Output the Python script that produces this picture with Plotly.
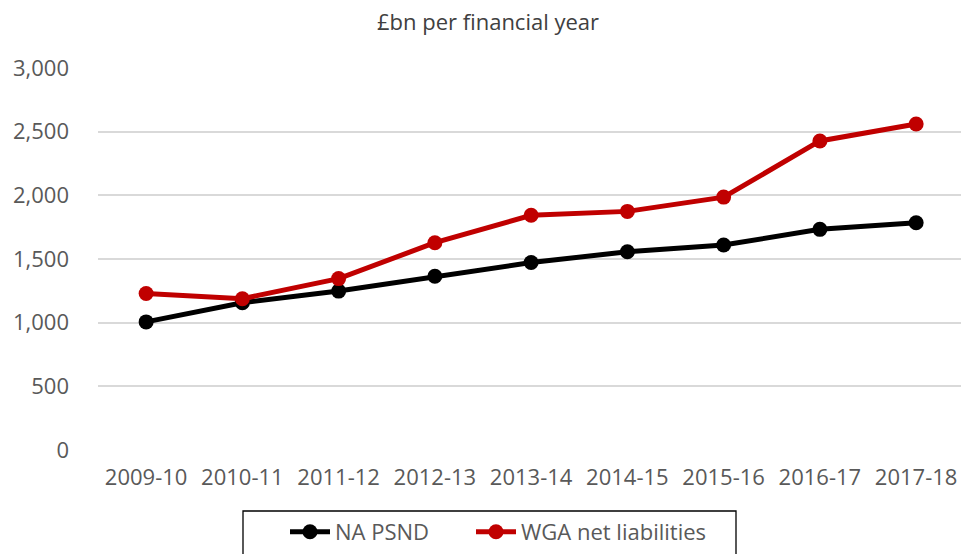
import plotly.graph_objects as go

years = ["2009-10", "2010-11", "2011-12", "2012-13", "2013-14",
         "2014-15", "2015-16", "2016-17", "2017-18"]
na_psnd = [1006, 1157, 1248, 1364, 1472, 1557, 1610, 1733, 1785]
wga_net = [1229, 1188, 1346, 1628, 1843, 1874, 1986, 2427, 2560]
y_ticks = [0, 500, 1000, 1500, 2000, 2500, 3000]
y_tick_text = ["0", "500", "1,000", "1,500", "2,000", "2,500", "3,000"]

FONT = "Open Sans"
W, H = 961, 554
L, T, PB = 98, 68, 450
PW, PH = W - L, PB - T


def px_to_paper_x(px):
    return (px - L) / PW


def px_to_paper_y(py):
    return (PB - py) / PH


fig = go.Figure()
fig.add_trace(go.Scatter(
    x=years, y=na_psnd, name="NA PSND", mode="lines+markers",
    line=dict(color="#000000", width=5),
    marker=dict(color="#000000", size=15),
    legend="legend",
))
fig.add_trace(go.Scatter(
    x=years, y=wga_net, name="WGA net liabilities", mode="lines+markers",
    line=dict(color="#C00000", width=5),
    marker=dict(color="#C00000", size=15),
    legend="legend2",
))

# legend frame
fig.add_shape(type="rect", xref="paper", yref="paper",
              x0=px_to_paper_x(243), x1=px_to_paper_x(736),
              y0=px_to_paper_y(511), y1=px_to_paper_y(600),
              line=dict(color="#000000", width=1.3), fillcolor="rgba(0,0,0,0)",
              layer="above")

leg_common = dict(orientation="h", xref="container", yref="container",
                  xanchor="left", y=1 - 511 / H, yanchor="top",
                  borderwidth=0, bgcolor="rgba(0,0,0,0)",
                  font=dict(family=FONT, size=22, color="#595959"),
                  itemwidth=40)

fig.update_layout(
    width=W, height=H,
    margin=dict(l=L, r=0, t=T, b=H - PB),
    paper_bgcolor="white", plot_bgcolor="white",
    font=dict(family=FONT, size=22, color="#595959"),
    title=dict(text="£bn per financial year", x=488 / W, xanchor="center",
               xref="container", y=1 - 22 / H, yanchor="middle", yref="container",
               font=dict(family=FONT, size=22, color="#404040")),
    showlegend=True,
    legend=dict(x=285 / W, **leg_common),
    legend2=dict(x=471 / W, **leg_common),
    hovermode=False,
)
fig.update_xaxes(
    type="category", range=[-0.5, 8.466], showgrid=False, zeroline=False,
    showline=False, ticks="", ticklabelstandoff=12,
    tickfont=dict(family=FONT, size=22, color="#595959"),
)
fig.update_yaxes(
    range=[0, 3000], tickvals=y_ticks, ticktext=y_tick_text,
    showgrid=True, gridcolor="#d9d9d9", gridwidth=1.5, zeroline=False,
    showline=False, ticks="", ticklabelstandoff=28,
    tickfont=dict(family=FONT, size=22, color="#595959"),
)

fig.write_html(
    "out.html",
    config={"displayModeBar": False},
    post_script="document.documentElement.style.overflow='hidden';"
                "document.body.style.margin='0';"
                "document.body.style.overflow='hidden';",
)
